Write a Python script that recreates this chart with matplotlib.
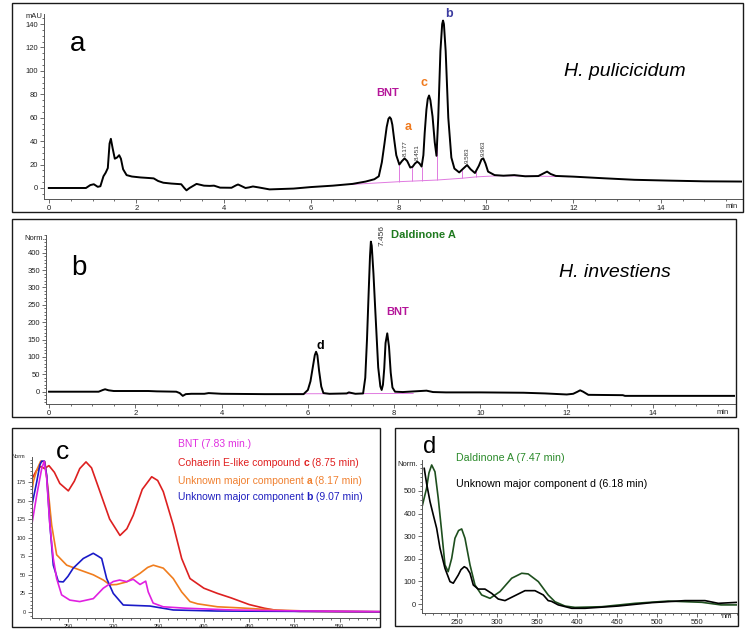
import numpy as np
import matplotlib.pyplot as plt
from matplotlib.patches import Rectangle
from matplotlib.offsetbox import TextArea, HPacker, AnnotationBbox
from matplotlib.ticker import MultipleLocator, FixedLocator

plt.rcParams['font.family'] = ['Liberation Sans', 'DejaVu Sans']

# ---- panel a: H. pulicicidum chromatogram (min, mAU) ----
t_a = [0.0, 0.85, 0.95, 1.03, 1.12, 1.18, 1.25, 1.30, 1.35, 1.39, 1.42, 1.46, 1.51,
       1.56, 1.61, 1.65, 1.70, 1.78, 1.90, 2.10, 2.30, 2.40, 2.50, 2.62, 2.80, 3.03,
       3.10, 3.15, 3.22, 3.38, 3.55, 3.68, 3.78, 3.92, 4.18, 4.28, 4.33, 4.40, 4.50,
       4.58, 4.67, 4.80, 5.05, 5.6, 6.0, 6.5, 6.95, 7.25, 7.45, 7.55, 7.62, 7.68,
       7.73, 7.77, 7.80, 7.83, 7.86, 7.90, 7.95, 8.02, 8.08, 8.14, 8.20, 8.27, 8.32,
       8.38, 8.43, 8.48, 8.53, 8.57, 8.60, 8.64, 8.67, 8.70, 8.73, 8.78, 8.83, 8.87,
       8.91, 8.96, 9.00, 9.02, 9.04, 9.08, 9.14, 9.21, 9.28, 9.39, 9.48, 9.57, 9.65,
       9.75, 9.84, 9.90, 9.94, 9.99, 10.05, 10.2, 10.4, 10.65, 10.9, 11.2, 11.32,
       11.40, 11.48, 11.6, 12.0, 12.7, 13.4, 14.2, 15.0, 15.88]
y_a = [0, 0, 2.5, 3.2, 1.0, 1.5, 10, 13, 17, 38, 42, 34, 25,
       26, 28, 25, 16, 11, 9.8, 9, 8.5, 8.2, 6, 4.5, 3.8, 3.2,
       0, -2, 0, 3.5, 2, 1.8, 2, 0.3, 0.2, 2.2, 3, 1.8, 0,
       0.5, 1.3, 0.5, -1.2, -0.5, 0.8, 2, 3.5, 5.5, 7.5, 10, 22, 38,
       52, 59, 60.5, 59, 54, 42, 28, 20, 23, 25.3, 23, 17.5, 18,
       21, 22.5, 21, 18.3, 28, 47, 67, 76, 79, 75, 61, 39, 27.5,
       60, 117, 140, 143, 140, 117, 60, 26, 16.6, 13.3, 16.5, 19.6, 16,
       12.8, 19, 24.5, 25.3, 21, 14, 11, 10.5, 11, 10, 10.2, 12.5,
       14, 12, 10.3, 9.7, 8.3, 7, 6.3, 5.7, 5.5]
base_t_a = [6.9, 8.02, 8.88, 9.45, 9.78, 10.3, 11.9]
base_y_a = [3.0, 5.4, 6.8, 8.3, 9.5, 10.5, 9.7]
drop_t_a = [8.02, 8.30, 8.53, 8.88, 9.45, 9.78]
rt_labels_a = ['8.177', '8.451', '9.583', '9.963']
rt_pos_a = [8.16, 8.43, 9.58, 9.94]
rt_y_a = [27, 24, 21, 27]

# ---- panel b: H. investiens chromatogram (min, Norm.) ----
t_b = [0, 1.15, 1.25, 1.30, 1.38, 1.5, 2.3, 2.5, 2.95, 3.03, 3.10, 3.17, 3.3, 3.6,
       3.7, 4.0, 5.0, 5.9, 6.0, 6.06, 6.12, 6.16, 6.19, 6.22, 6.26, 6.31, 6.36, 6.5,
       6.9, 6.95, 7.1, 7.28, 7.33, 7.37, 7.41, 7.44, 7.46, 7.48, 7.52, 7.56, 7.63,
       7.68, 7.71, 7.74, 7.77, 7.80, 7.84, 7.88, 7.92, 7.96, 8.02, 8.2, 8.75, 8.9,
       9.2, 10.0, 11.0, 11.5, 12.0, 12.15, 12.25, 12.31, 12.38, 12.5, 13.3, 13.35, 15.9]
y_b = [0, 0, 5, 7, 4, 2, 2, 1, 0, -4, -12, -7, -6, -6,
       -4, -6, -7, -7, 5, 30, 75, 105, 115, 105, 60, 15, -4, -6,
       -5, -2, -6, -5, 40, 150, 290, 390, 432, 420, 340, 240, 70,
       15, 5, 20, 67, 140, 168, 130, 55, 12, 0, -1, 3, -1,
       -2, -2, -3, -5, -8, -6, 0, 4, 0, -9, -10, -12, -12]
base_t_b = [5.6, 8.44]
base_y_b = [-6, -5]

# ---- panel c: UV spectra (nm, Norm) ----
wl_bnt = [210, 215.5, 221, 223.8, 226.5, 230, 233.8, 237.5, 243, 252, 263, 278, 289,
          300, 307, 314.8, 322, 329.5, 335.8, 338.6, 344, 355, 381, 432, 500, 594]
y_bnt = [117, 157, 193, 203, 180, 117, 72, 45, 23, 16, 14, 18, 32,
         41, 43, 40.8, 44, 37, 41.5, 27, 12, 7, 5, 2.7, 1.5, 0.5]
wl_coh = [210.6, 215, 220, 224, 229, 235, 241, 250.4, 257, 263, 269.9, 276, 285.3,
          296, 307.4, 315, 322, 332, 342.4, 349, 355.2, 366.2, 375.5, 384.7, 400,
          415, 430, 450, 467, 481, 506, 594]
y_coh = [180, 190, 196, 193, 197, 188, 173, 163, 176, 193, 202, 194, 162,
         125, 103, 112, 130, 165, 182, 177, 162, 117, 72, 45, 32,
         25, 19, 10, 5, 2, 0.8, 0.3]
wl_a = [210, 211.7, 215.5, 219.9, 224.6, 228.3, 232, 237.5, 248.6, 263.2, 278, 289,
        296.4, 303.8, 314.8, 329.5, 338, 344.2, 355.2, 366.2, 375.5, 384.7, 393, 415,
        440, 479, 520, 594]
y_a_uv = [160, 175, 191, 203, 202, 162, 117, 77, 63, 56.5, 50, 43,
          36.5, 37, 40.5, 52, 60, 63, 59, 45, 27, 14, 11, 7,
          5.5, 2.7, 1, 0.3]
wl_b = [210.6, 215.5, 219, 221, 224, 226.5, 230.1, 233.8, 239.3, 244.8, 250, 255.8,
        266.9, 277.9, 283.4, 287.2, 292.7, 300, 311, 340.5, 366.2, 414, 594]
y_b_uv = [146, 175, 198, 203, 203, 184, 117, 63, 41, 40.5, 48, 59,
          72, 79, 75, 72, 45, 25, 9.4, 8, 2.7, 1.3, 0.3]

# ---- panel d: UV spectra (nm, Norm.) ----
wl_dal = [205.9, 212, 215, 218.4, 222.5, 226.6, 230.9, 235, 239, 243.4, 247.5, 252,
          255.9, 260, 266.3, 272.5, 280.9, 291.3, 303.8, 318.4, 330.9, 339, 351.7,
          364, 372.5, 385, 397.5, 430.9, 472.5, 514, 556, 580, 601]
y_dal = [423, 512, 580, 615, 585, 468, 320, 173, 143, 202, 291, 325,
         332, 291, 173, 84, 40, 25, 55, 114, 136, 133, 99,
         40, 10, -9, -15, -12, 3, 13, 7.5, -4, -4]
wl_d = [209.1, 212, 216.3, 220.4, 224.6, 228.8, 235, 241.3, 245.4, 251.6, 255, 259.1,
        262.5, 266.3, 270.4, 276.6, 285, 293.4, 301.6, 310, 322.5, 335, 347.5, 357.9,
        364, 368, 376.6, 393.4, 410, 451.6, 493.4, 535, 560, 576.6, 601.6]
y_d = [600, 534, 453, 394, 335, 247, 158, 99, 92, 128, 152, 165,
       158, 136, 84, 66, 66, 47, 22, 15, 37, 59, 59, 40,
       15, 12, -4, -19, -19, -9, 6, 15, 15, 3, 7.5]

W, H = 747, 632
fig = plt.figure(figsize=(W / 100, H / 100), dpi=100)


def box(l, t, r, b):
    return [l / W, 1 - b / H, (r - l) / W, (b - t) / H]


def ftext(px, py, s, **kw):
    return fig.text(px / W, 1 - py / H, s, **kw)


def frame(l, t, r, b):
    fig.add_artist(Rectangle((l / W, 1 - b / H), (r - l) / W, (b - t) / H,
                             transform=fig.transFigure, fill=False, lw=1.0, ec='#1a1a1a'))


def style(ax, fs, xmaj, xmin, ymaj, ymin):
    for s in ['top', 'right']:
        ax.spines[s].set_visible(False)
    for s in ['left', 'bottom']:
        ax.spines[s].set_color('#555555')
        ax.spines[s].set_linewidth(0.7)
    ax.xaxis.set_major_locator(FixedLocator(xmaj))
    ax.xaxis.set_minor_locator(MultipleLocator(xmin))
    ax.yaxis.set_major_locator(FixedLocator(ymaj))
    ax.yaxis.set_minor_locator(MultipleLocator(ymin))
    ax.tick_params(which='both', direction='out', colors='#555555', labelcolor='#222222',
                   labelsize=fs, width=0.6, pad=1.2)
    ax.tick_params(which='major', length=3)
    ax.tick_params(which='minor', length=1.6)
    ax.patch.set_visible(False)


mixed_parts = []


def mixed(px, py, parts, color, size):
    boxes = [TextArea(s, textprops=dict(color=color, fontsize=size, fontweight=w))
             for s, w in parts]
    pack = HPacker(children=boxes, align='baseline', pad=0, sep=0)
    ab = AnnotationBbox(pack, (px / W, 1 - py / H), xycoords='figure fraction',
                        box_alignment=(0, 0.5), frameon=False, pad=0)
    fig.add_artist(ab)


# frames
frame(12, 3, 743, 212)
frame(12, 219, 736, 417)
frame(12, 428, 380, 627)
frame(395, 428, 738, 626)

# ---------- panel a ----------
ax = fig.add_axes(box(44, 14, 742, 199))
ax.plot(base_t_a, base_y_a, color='#e07ae0', lw=0.7)
for t in drop_t_a:
    ax.vlines(t, np.interp(t, base_t_a, base_y_a), np.interp(t, t_a, y_a),
              color='#e07ae0', lw=0.7)
ax.plot(t_a, y_a, color='black', lw=1.4)
ax.set_xlim(-0.11, 15.86)
ax.set_ylim(-9.4, 148.6)
style(ax, 5.5, range(0, 15, 2), 0.5, range(0, 141, 20), 5)
for lab, t, y in zip(rt_labels_a, rt_pos_a, rt_y_a):
    ax.text(t, y, lab, rotation=90, fontsize=4.5, ha='center', va='bottom', color='#333333')
ax.text(7.76, 81, 'BNT', color='#b5169a', fontsize=8, fontweight='bold', ha='center', va='center')
ax.text(8.21, 52, 'a', color='#f07a1e', fontsize=9, fontweight='bold', ha='center', va='center')
ax.text(8.58, 90, 'c', color='#f07a1e', fontsize=9, fontweight='bold', ha='center', va='center')
ax.text(9.15, 148.6, 'b', color='#3c3ca0', fontsize=9, fontweight='bold', ha='center', va='center')
ftext(78, 44, 'a', fontsize=20, ha='center', va='center')
ftext(625, 72, 'H. pulicicidum', fontsize=14, style='italic', ha='center', va='center')
ftext(34, 17, 'mAU', fontsize=5.5, ha='center', va='center', color='#222222')
ftext(732, 206, 'min', fontsize=5.5, ha='center', va='center', color='#222222')

# ---------- panel b ----------
ax = fig.add_axes(box(46, 235, 735, 404))
ax.plot(base_t_b, base_y_b, color='#e07ae0', lw=0.7)
ax.plot(t_b, y_b, color='black', lw=1.4)
ax.set_xlim(-0.07, 15.9)
ax.set_ylim(-35.4, 451)
style(ax, 5.5, range(0, 15, 2), 0.5, range(0, 401, 50), 10)
ax.text(6.28, 131, 'd', fontsize=9, fontweight='bold', ha='center', va='center')
ax.text(7.72, 451, '7.456', rotation=90, fontsize=6, ha='center', va='center', color='#333333')
ax.text(7.93, 451, 'Daldinone A', color='#1f7a1f', fontsize=8, fontweight='bold',
        ha='left', va='center')
ax.text(8.07, 229, 'BNT', color='#b5169a', fontsize=8, fontweight='bold', ha='center', va='center')
ftext(79, 268, 'b', fontsize=20, ha='center', va='center')
ftext(615, 272, 'H. investiens', fontsize=14, style='italic', ha='center', va='center')
ftext(35, 239, 'Norm.', fontsize=5.5, ha='center', va='center', color='#222222')
ftext(723, 412, 'min', fontsize=5.5, ha='center', va='center', color='#222222')

# ---------- panel c ----------
ax = fig.add_axes(box(32, 457, 380, 618))
ax.plot(wl_coh, y_coh, color='#dd2020', lw=1.2)
ax.plot(wl_a, y_a_uv, color='#f07d1e', lw=1.2)
ax.plot(wl_b, y_b_uv, color='#1a1ac8', lw=1.2)
ax.plot(wl_bnt, y_bnt, color='#e020e0', lw=1.2)
ax.set_xlim(210.3, 594.4)
ax.set_ylim(-8.1, 208.6)
style(ax, 4, range(250, 551, 50), 10, range(0, 176, 25), 5)
ftext(62, 452, 'c', fontsize=19, ha='center', va='center')
ftext(18, 457, 'Norm', fontsize=4, ha='center', va='center', color='#222222')
mixed(178, 444, [('BNT (7.83 min.)', 'normal')], '#e030e0', 7.5)
mixed(178, 463, [('Cohaerin E-like compound ', 'normal'), ('c', 'bold'),
                 (' (8.75 min)', 'normal')], '#e02020', 7.5)
mixed(178, 481, [('Unknown major component ', 'normal'), ('a', 'bold'),
                 (' (8.17 min)', 'normal')], '#f08030', 7.5)
mixed(178, 497, [('Unknown major component ', 'normal'), ('b', 'bold'),
                 (' (9.07 min)', 'normal')], '#2020c0', 7.5)

# ---------- panel d ----------
ax = fig.add_axes(box(422, 460, 737, 613))
ax.plot(wl_dal, y_dal, color='#1e4f1e', lw=1.2)
ax.plot(wl_d, y_d, color='black', lw=1.2)
ax.set_xlim(206.3, 600)
ax.set_ylim(-39.8, 637)
style(ax, 5.5, range(250, 551, 50), 10, range(0, 501, 100), 20)
ftext(430, 447, 'd', fontsize=17, ha='center', va='center')
ftext(408, 464, 'Norm.', fontsize=5.5, ha='center', va='center', color='#222222')
ftext(727, 617, 'nm', fontsize=5.5, ha='center', va='center', color='#222222')
ftext(456, 458, 'Daldinone A (7.47 min)', fontsize=7.7, color='#2a8a2a', ha='left', va='center')
ftext(456, 484, 'Unknown major component d (6.18 min)', fontsize=7.7, color='black',
      ha='left', va='center')

fig.savefig('out.png', dpi=100)
